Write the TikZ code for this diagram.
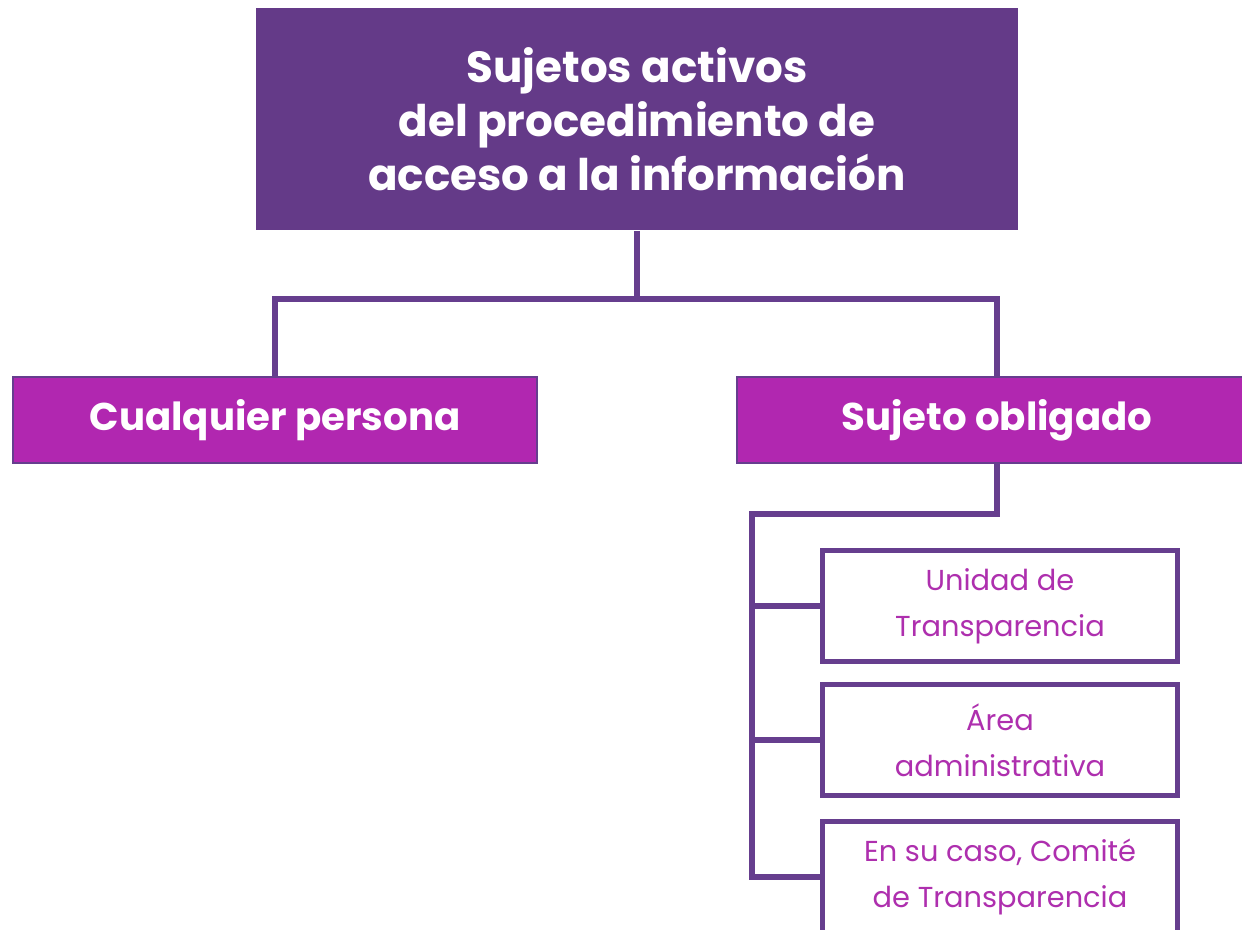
\documentclass[tikz,border=0pt]{standalone}
\usepackage{fontspec}
\setmainfont{Poppins}
\usetikzlibrary{positioning, calc}

\definecolor{topviolet}{RGB}{100,58,136}
\definecolor{boxmagenta}{RGB}{177,39,176}
\definecolor{linkviolet}{RGB}{102,62,142}
\definecolor{textmagenta}{RGB}{174,47,174}

\begin{document}
\begin{tikzpicture}[x=0.01cm, y=-0.01cm,
    topbox/.style={fill=topviolet, draw=none, text=white, align=center,
        minimum width=7.62cm, minimum height=2.22cm,
        font=\fontsize{12.4}{15.3}\selectfont\bfseries},
    midbox/.style={fill=boxmagenta, draw=linkviolet, line width=0.6pt, text=white,
        minimum height=0.86cm, font=\fontsize{11}{14}\selectfont\bfseries},
    subbox/.style={fill=white, draw=linkviolet, line width=1.5pt, text=textmagenta,
        align=center, minimum width=3.55cm, minimum height=1.11cm,
        font=\fontsize{8.2}{13}\selectfont},
    conn/.style={draw=linkviolet, line width=1.5pt}]
    \useasboundingbox (0,0) rectangle (1242,930);
    \clip (0,0) rectangle (1242,930);

    \node[topbox] (top) at (637,119)
        {Sujetos activos\\del procedimiento de\\acceso a la información};
    \node[midbox, minimum width=5.24cm] (cualquier) at (275,420) {Cualquier persona};
    \node[midbox, minimum width=5.2cm] (sujeto) at (997,420) {Sujeto obligado};

    \node[subbox] (u1) at (1000,606) {Unidad de\\Transparencia};
    \node[subbox] (u2) at (1000,740) {Área\\administrativa};
    \node[subbox] (u3) at (1000,877) {En su caso, Comité\\de Transparencia};

    \coordinate (hub) at (637,299);
    \coordinate (spine) at (752,514);

    \draw[conn] (top.south) -- (hub);
    \draw[conn] (cualquier.north) |- (hub) -| (sujeto.north);
    \draw[conn] (sujeto.south) |- (spine) |- (u3.west);
    \foreach \n in {u1,u2}
        \draw[conn] (spine |- \n.west) -- (\n.west);
\end{tikzpicture}
\end{document}
